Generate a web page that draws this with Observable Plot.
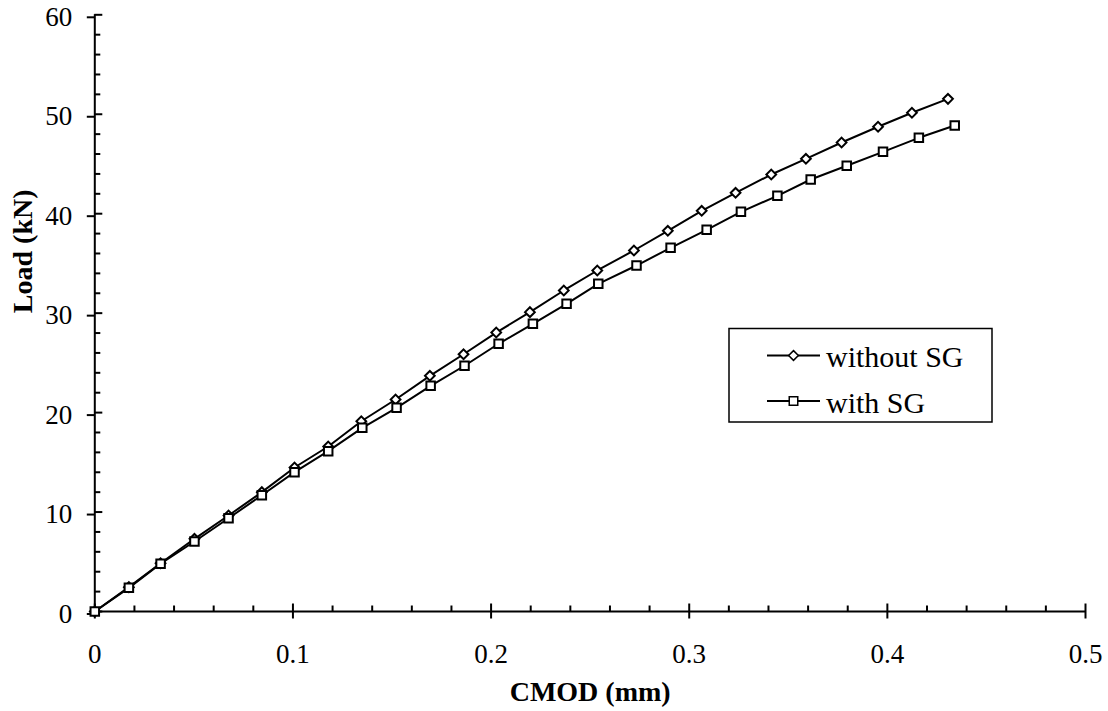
<!DOCTYPE html>
<html>
<head>
<meta charset="utf-8">
<script src="https://cdn.jsdelivr.net/npm/d3@7"></script>
<script src="https://cdn.jsdelivr.net/npm/@observablehq/plot@0.6"></script>
<style>
  html, body { margin: 0; padding: 0; background: #fff; }
  #chart { position: relative; width: 1108px; height: 711px; }
</style>
</head>
<body>
<div id="chart"></div>
<script>
// ---- data ----
const seriesNames = ["without SG", "with SG"];

const cmodWithout = [0, 0.0172, 0.0332, 0.0503, 0.0675, 0.0843, 0.1008, 0.1178, 0.1345, 0.1518,
  0.1691, 0.1861, 0.2026, 0.2196, 0.2367, 0.2536, 0.2721, 0.2892, 0.3063, 0.3234,
  0.3414, 0.3589, 0.3769, 0.3953, 0.4124, 0.4306];
const loadWithout = [0, 2.45, 4.85, 7.31, 9.65, 12.0, 14.48, 16.59, 19.13, 21.32,
  23.70, 25.87, 28.05, 30.10, 32.28, 34.29, 36.30, 38.28, 40.29, 42.10,
  43.94, 45.52, 47.16, 48.74, 50.15, 51.55];

const cmodWith = [0, 0.0172, 0.0332, 0.0503, 0.0675, 0.0843, 0.1008, 0.1178, 0.1350, 0.1523,
  0.1695, 0.1866, 0.2038, 0.2211, 0.2381, 0.2541, 0.2734, 0.2906, 0.3088, 0.3261,
  0.3445, 0.3613, 0.3795, 0.3978, 0.4159, 0.4340];
const loadWith = [0, 2.38, 4.80, 7.04, 9.38, 11.69, 14.01, 16.12, 18.47, 20.48,
  22.69, 24.71, 26.92, 28.93, 30.94, 32.95, 34.79, 36.57, 38.38, 40.19,
  41.80, 43.44, 44.82, 46.22, 47.63, 48.87];

const xMajorTicks = [0, 0.1, 0.2, 0.3, 0.4, 0.5];
const xTickLabels = ["0", "0.1", "0.2", "0.3", "0.4", "0.5"];
const xMinorTicks = d3.range(0, 0.5001, 0.02).map(v => +v.toFixed(2)).filter(v => !xMajorTicks.includes(v));
const yMajorTicks = [0, 10, 20, 30, 40, 50, 60];
const yTickLabels = ["0", "10", "20", "30", "40", "50", "60"];
const yMinorTicks = d3.range(0, 60.001, 2).filter(v => !yMajorTicks.includes(v));

const xTitle = "CMOD (mm)";
const yTitle = "Load (kN)";

// ---- tables ----
const dataWithout = cmodWithout.map((x, i) => ({x, y: loadWithout[i], s: seriesNames[0]}));
const dataWith = cmodWith.map((x, i) => ({x, y: loadWith[i], s: seriesNames[1]}));

const font = "'Liberation Serif', 'Times New Roman', serif";
const sw = 2;
const rDiamond = 4.4;
const rSquare = 4.8;

const plot = Plot.plot({
  width: 1108,
  height: 711,
  marginLeft: 94.3,
  marginRight: 23,
  marginTop: 14.3,
  marginBottom: 100,
  style: {fontFamily: font, background: "#fff", color: "#000"},
  x: {domain: [0, 0.5]},
  y: {domain: [0, 60]},
  marks: [
    // axis labels + outer parts of major ticks
    Plot.axisX({ticks: xMajorTicks, tickFormat: (d) => xTickLabels[xMajorTicks.indexOf(d)], tickSize: 7.5, tickPadding: 25, fontSize: 27, strokeWidth: 2, label: null}),
    Plot.axisY({ticks: yMajorTicks, tickFormat: (d) => yTickLabels[yMajorTicks.indexOf(d)], tickSize: 7.5, tickPadding: 15, fontSize: 27, dy: 2.5, strokeWidth: 2, label: null}),
    // inner parts of major ticks
    Plot.ruleX(xMajorTicks, {x: d => d, y1: 0, y2: 0, insetTop: -7.5, insetBottom: 0, stroke: "black", strokeWidth: 2}),
    Plot.ruleY(yMajorTicks, {y: d => d, x1: 0, x2: 0, insetLeft: 0, insetRight: -8, stroke: "black", strokeWidth: 2}),
    // minor ticks (inside)
    Plot.ruleX(xMinorTicks, {x: d => d, y1: 0, y2: 0, insetTop: -5.5, insetBottom: 0, stroke: "black", strokeWidth: 2}),
    Plot.ruleY(yMinorTicks, {y: d => d, x1: 0, x2: 0, insetLeft: 0, insetRight: -6, stroke: "black", strokeWidth: 2}),
    // axis lines
    Plot.ruleY([0], {stroke: "black", strokeWidth: 2}),
    Plot.ruleX([0], {stroke: "black", strokeWidth: 2}),
    // series
    Plot.line(dataWithout, {x: "x", y: "y", stroke: "black", strokeWidth: sw}),
    Plot.dot(dataWithout, {x: "x", y: "y", symbol: "diamond2", r: rDiamond, fill: "white", stroke: "black", strokeWidth: sw}),
    Plot.line(dataWith, {x: "x", y: "y", stroke: "black", strokeWidth: sw}),
    Plot.dot(dataWith, {x: "x", y: "y", symbol: "square", r: rSquare, fill: "white", stroke: "black", strokeWidth: sw}),
    // axis titles
    Plot.text([xTitle], {frameAnchor: "bottom", lineAnchor: "middle", dy: 81, fontSize: 28, fontWeight: "bold", fill: "black"}),
    Plot.text([yTitle], {frameAnchor: "left", lineAnchor: "middle", dx: -72, rotate: -90, fontSize: 28, fontWeight: "bold", fill: "black"})
  ]
});

document.getElementById("chart").appendChild(plot);

// ---- legend (inside plot area, drawn into the same SVG) ----
const svg = d3.select(plot);
const lg = svg.append("g").attr("font-family", font).attr("text-anchor", "start");
lg.append("rect").attr("x", 729).attr("y", 328.5).attr("width", 263).attr("height", 93.5)
  .attr("fill", "white").attr("stroke", "black").attr("stroke-width", 1.5);
const rows = [
  {name: seriesNames[0], sym: d3.symbolDiamond2, r: rDiamond, cy: 355.5, base: 366.5},
  {name: seriesNames[1], sym: d3.symbolSquare, r: rSquare, cy: 401, base: 412.5}
];
rows.forEach(row => {
  lg.append("line").attr("x1", 767).attr("x2", 820).attr("y1", row.cy).attr("y2", row.cy)
    .attr("stroke", "black").attr("stroke-width", 2);
  lg.append("path").attr("d", d3.symbol(row.sym, Math.PI * row.r * row.r)())
    .attr("transform", `translate(793.5,${row.cy})`)
    .attr("fill", "white").attr("stroke", "black").attr("stroke-width", 1.5);
  lg.append("text").attr("x", 826).attr("y", row.base).attr("font-size", 30).attr("fill", "black")
    .text(row.name);
});
</script>
</body>
</html>
